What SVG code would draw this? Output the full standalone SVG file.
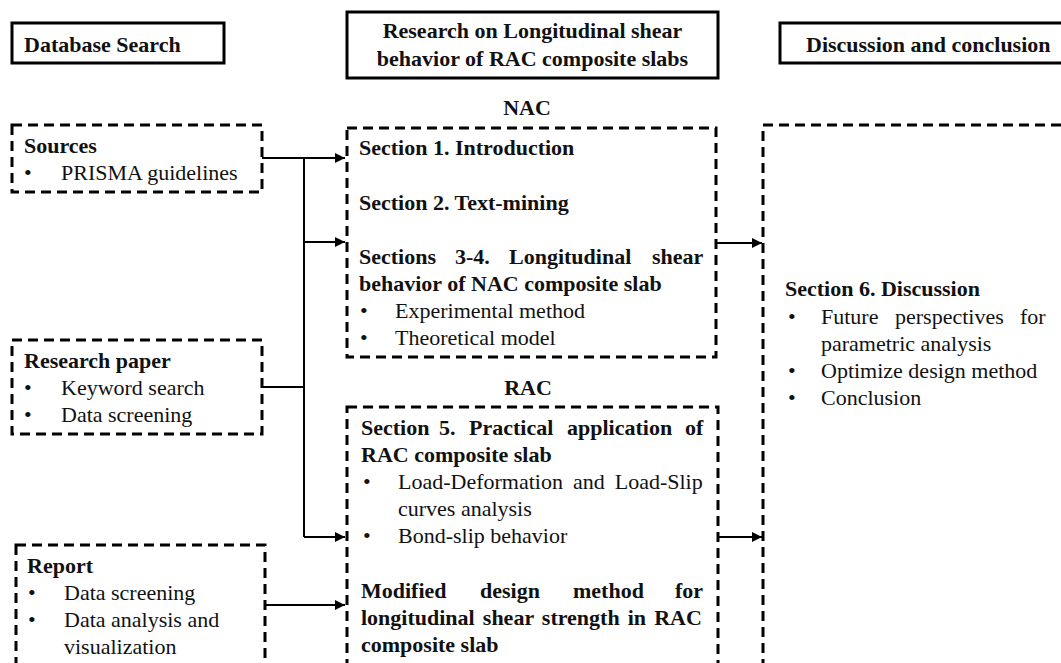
<svg xmlns="http://www.w3.org/2000/svg" width="1061" height="663" viewBox="0 0 1061 663" font-family="'Liberation Serif', 'Times New Roman', serif">
<style>
  text { font-family: "Liberation Serif", "Times New Roman", serif; font-size: 22px; fill: #111; }
  .b { font-weight: bold; }
  .solid { fill: #fff; stroke: #000; stroke-width: 3; }
  .dash { fill: none; stroke: #000; stroke-width: 3; stroke-dasharray: 10 6; }
  .conn { fill: none; stroke: #000; stroke-width: 2; }
</style>
<defs>
  <marker id="arr" viewBox="0 0 10 10" refX="10" refY="5" markerWidth="5" markerHeight="5" orient="auto" markerUnits="strokeWidth">
    <path d="M0,0 L10,5 L0,10 z" fill="#000"/>
  </marker>
</defs>
<rect width="1061" height="663" fill="#fff"/>

<g id="header-database">
  <rect class="solid" x="12" y="23" width="212" height="40"/>
  <text class="b" x="24" y="52">Database Search</text>
</g>
<g id="header-research">
  <rect class="solid" x="347" y="12" width="371" height="66"/>
  <text class="b" x="532.5" y="38" text-anchor="middle">Research on Longitudinal shear</text>
  <text class="b" x="532.5" y="66" text-anchor="middle">behavior of RAC composite slabs</text>
</g>
<g id="header-discussion">
  <rect class="solid" x="780" y="23" width="300" height="40"/>
  <text class="b" x="806" y="52">Discussion and conclusion</text>
</g>

<g id="sources">
  <rect class="dash" x="12" y="125" width="250" height="67"/>
  <text class="b" x="24" y="153">Sources</text>
  <text x="24" y="180">•</text>
  <text x="61" y="180">PRISMA guidelines</text>
</g>
<g id="research-paper">
  <rect class="dash" x="12" y="340" width="250" height="94"/>
  <text class="b" x="24" y="368">Research paper</text>
  <text x="24" y="395">•</text>
  <text x="61" y="395">Keyword search</text>
  <text x="24" y="422">•</text>
  <text x="61" y="422">Data screening</text>
</g>
<g id="report">
  <rect class="dash" x="16" y="545" width="249" height="140"/>
  <text class="b" x="27" y="573">Report</text>
  <text x="28" y="600">•</text>
  <text x="64" y="600">Data screening</text>
  <text x="28" y="627">•</text>
  <text x="64" y="627">Data analysis and</text>
  <text x="64" y="654">visualization</text>
</g>

<g id="nac">
  <text class="b" x="527" y="115" text-anchor="middle">NAC</text>
  <rect class="dash" x="347" y="128" width="369" height="229"/>
  <text class="b" x="359" y="155">Section 1. Introduction</text>
  <text class="b" x="359" y="210">Section 2. Text-mining</text>
  <text class="b" y="264"><tspan x="359">Sections</tspan><tspan x="455">3-4.</tspan><tspan x="509">Longitudinal</tspan><tspan x="652">shear</tspan></text>
  <text class="b" x="359" y="291">behavior of NAC composite slab</text>
  <text x="360" y="318">•</text>
  <text x="395" y="318">Experimental method</text>
  <text x="360" y="345">•</text>
  <text x="395" y="345">Theoretical model</text>
</g>

<g id="rac">
  <text class="b" x="528" y="395" text-anchor="middle">RAC</text>
  <rect class="dash" x="347" y="407" width="371" height="280"/>
  <text class="b" y="435"><tspan x="361">Section</tspan><tspan x="439">5.</tspan><tspan x="469">Practical</tspan><tspan x="567">application</tspan><tspan x="685">of</tspan></text>
  <text class="b" x="361" y="462">RAC composite slab</text>
  <text x="363" y="489">•</text>
  <text x="398" y="489" word-spacing="4.5">Load-Deformation and Load-Slip</text>
  <text x="398" y="516">curves analysis</text>
  <text x="363" y="543">•</text>
  <text x="398" y="543">Bond-slip behavior</text>
  <text class="b" y="598"><tspan x="361">Modified</tspan><tspan x="480">design</tspan><tspan x="573">method</tspan><tspan x="675">for</tspan></text>
  <text class="b" x="361" y="625" word-spacing="2.6">longitudinal shear strength in RAC</text>
  <text class="b" x="361" y="652">composite slab</text>
</g>

<g id="discussion">
  <rect class="dash" x="763" y="125" width="320" height="560"/>
  <text class="b" x="785" y="296">Section 6. Discussion</text>
  <text x="788" y="324">•</text>
  <text y="324"><tspan x="821">Future</tspan><tspan x="895">perspectives</tspan><tspan x="1020">for</tspan></text>
  <text x="821" y="351">parametric analysis</text>
  <text x="788" y="378">•</text>
  <text x="821" y="378">Optimize design method</text>
  <text x="788" y="405">•</text>
  <text x="821" y="405">Conclusion</text>
</g>

<g id="connectors">
  <path class="conn" d="M262,158 H345" marker-end="url(#arr)"/>
  <path class="conn" d="M304,158 V537"/>
  <path class="conn" d="M304,242 H345" marker-end="url(#arr)"/>
  <path class="conn" d="M262,387 H304"/>
  <path class="conn" d="M304,537 H345" marker-end="url(#arr)"/>
  <path class="conn" d="M265,605 H345" marker-end="url(#arr)"/>
  <path class="conn" d="M716,243 H762" marker-end="url(#arr)"/>
  <path class="conn" d="M718,537 H762" marker-end="url(#arr)"/>
</g>
</svg>
